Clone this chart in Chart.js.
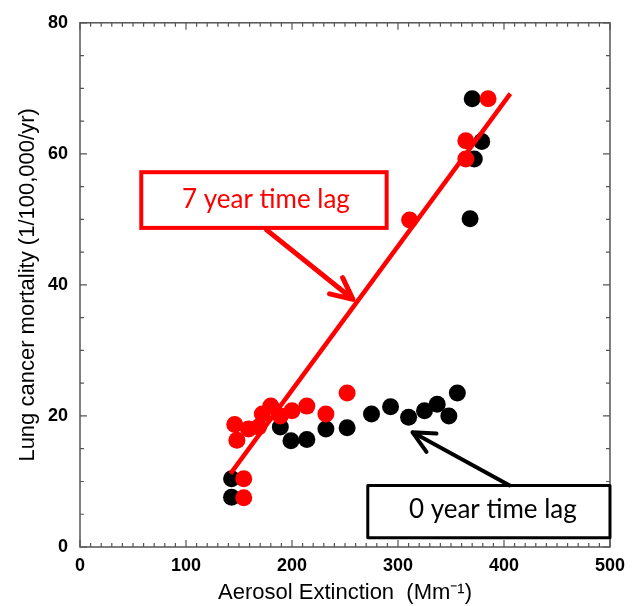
<!DOCTYPE html>
<html>
<head>
<meta charset="utf-8">
<script src="https://cdn.jsdelivr.net/npm/chart.js@4.4.0/dist/chart.umd.min.js"></script>
<style>
body { margin: 0; background: #fff; }
#wrap { width: 633px; height: 606px; position: relative; }
</style>
</head>
<body>
<div id="wrap"><canvas id="myChart"></canvas></div>
<script>
// 0 year time lag (black)
var lag0X = [143, 143, 189, 199, 214, 232, 252, 275, 293, 310, 325, 337, 348, 356, 368, 372, 379, 370];
var lag0Y = [7.6, 10.4, 18.3, 16.2, 16.4, 18.0, 18.2, 20.3, 21.4, 19.8, 20.8, 21.8, 20.0, 23.5, 50.1, 59.2, 61.9, 68.4];
// 7 year time lag (red)
var lag7X = [154.5, 154.5, 146, 148, 159, 168.5, 172, 180, 189, 200, 214, 232, 252, 311, 364, 364, 385];
var lag7Y = [7.5, 10.4, 18.7, 16.3, 18.0, 18.3, 20.3, 21.5, 20.0, 20.8, 21.5, 20.3, 23.5, 49.9, 59.2, 62.0, 68.4];
// fitted line for the 7 year lag
var fitX = [142, 406];
var fitY = [11.2, 69.2];

var xTicks = [0, 100, 200, 300, 400, 500];
var yTicks = [0, 20, 40, 60, 80];

function pts(xs, ys) {
	var out = [];
	for (var i = 0; i < xs.length; i++) out.push({ x: xs[i], y: ys[i] });
	return out;
}

// callouts, in data units
var notes = [
	{ text: "7 year time lag", color: "#ff0000", lw: 4, box: [57.8, 57.2, 289.3, 48.7], textAt: [175.4, 51.7], arrow: [176, 48.4, 257.5, 37.8] },
	{ text: "0 year time lag", color: "#000000", lw: 3, box: [271.5, 9.4, 500, 1.4], textAt: [389.5, 4.4], arrow: [405.4, 9.4, 313.7, 17.5] }
];

var framePlugin = {
	id: 'frame',
	beforeDatasetsDraw: function(chart) {
		var ctx = chart.ctx, a = chart.chartArea;
		var xs = chart.scales.x, ys = chart.scales.y;
		ctx.save();
		ctx.strokeStyle = "#555";
		ctx.lineWidth = 1.5;
		ctx.strokeRect(a.left, a.top, a.right - a.left, a.bottom - a.top);
		ctx.lineWidth = 1.2;
		ctx.beginPath();
		for (var v = 0; v <= 500; v += 10) {
			var px = xs.getPixelForValue(v);
			var len = (v % 100 === 0) ? 7 : 4;
			ctx.moveTo(px, a.bottom); ctx.lineTo(px, a.bottom - len);
			ctx.moveTo(px, a.top); ctx.lineTo(px, a.top + len);
		}
		for (var w = 0; w <= 80; w += 5) {
			var py = ys.getPixelForValue(w);
			var l2 = (w % 20 === 0) ? 7 : 4;
			ctx.moveTo(a.left, py); ctx.lineTo(a.left + l2, py);
			ctx.moveTo(a.right, py); ctx.lineTo(a.right - l2, py);
		}
		ctx.stroke();
		ctx.restore();
	},
	afterDraw: function(chart) {
		var ctx = chart.ctx;
		var xs = chart.scales.x, ys = chart.scales.y;
		ctx.save();
		notes.forEach(function(n) {
			var x1 = xs.getPixelForValue(n.box[0]), y1 = ys.getPixelForValue(n.box[1]);
			var x2 = xs.getPixelForValue(n.box[2]), y2 = ys.getPixelForValue(n.box[3]);
			ctx.fillStyle = "#fff";
			ctx.fillRect(x1, y1, x2 - x1, y2 - y1);
			ctx.strokeStyle = n.color;
			ctx.lineWidth = n.lw;
			ctx.strokeRect(x1, y1, x2 - x1, y2 - y1);
			ctx.fillStyle = n.color;
			ctx.font = "26px Lato";
			ctx.textAlign = "center";
			ctx.textBaseline = "alphabetic";
			ctx.fillText(n.text, xs.getPixelForValue(n.textAt[0]), ys.getPixelForValue(n.textAt[1]));
			// arrow
			var tx = xs.getPixelForValue(n.arrow[0]), ty = ys.getPixelForValue(n.arrow[1]);
			var hx = xs.getPixelForValue(n.arrow[2]), hy = ys.getPixelForValue(n.arrow[3]);
			var ang = Math.atan2(ty - hy, tx - hx);
			var hl = 24, spread = 0.45;
			ctx.lineWidth = n.lw + 1;
			ctx.lineCap = "round";
			ctx.lineJoin = "round";
			ctx.beginPath();
			ctx.moveTo(tx, ty); ctx.lineTo(hx, hy);
			ctx.moveTo(hx + hl * Math.cos(ang + spread), hy + hl * Math.sin(ang + spread));
			ctx.lineTo(hx, hy);
			ctx.lineTo(hx + hl * Math.cos(ang - spread), hy + hl * Math.sin(ang - spread));
			ctx.stroke();
		});
		ctx.restore();
	}
};

var ctx = document.getElementById("myChart").getContext("2d");
var myChart = new Chart(ctx, {
	type: 'scatter',
	data: {
		datasets: [{
			label: '0 year time lag',
			data: pts(lag0X, lag0Y),
			backgroundColor: '#000',
			borderWidth: 0,
			pointRadius: 8.5,
			order: 3
		}, {
			label: '7 year time lag',
			data: pts(lag7X, lag7Y),
			backgroundColor: '#ff0000',
			borderWidth: 0,
			pointRadius: 8.5,
			order: 2
		}, {
			type: 'line',
			label: 'fit',
			data: pts(fitX, fitY),
			borderColor: '#ff0000',
			borderWidth: 4.5,
			pointRadius: 0,
			fill: false,
			order: 1
		}]
	},
	options: {
		responsive: true,
		maintainAspectRatio: false,
		animation: false,
		layout: { padding: { top: 20, right: 19, left: 0, bottom: 0 } },
		plugins: { legend: { display: false }, tooltip: { enabled: false } },
		scales: {
			x: {
				type: 'linear',
				min: 0, max: 500,
				afterFit: function(s) { s.height = 59; },
				afterBuildTicks: function(s) { s.ticks = xTicks.map(function(v) { return { value: v }; }); },
				grid: { display: false, drawTicks: false },
				border: { display: false },
				ticks: { padding: 8, color: '#000', font: { family: 'Liberation Sans', size: 18, weight: 'bold' } },
				title: {
					display: true,
					text: 'Aerosol Extinction  (Mm\u207B\u00B9)',
					color: '#000',
					font: { family: 'Liberation Sans', size: 22 },
					padding: { top: 0, bottom: 0 }
				}
			},
			y: {
				type: 'linear',
				min: 0, max: 80,
				afterFit: function(s) { s.width = 80; },
				afterBuildTicks: function(s) { s.ticks = yTicks.map(function(v) { return { value: v }; }); },
				grid: { display: false, drawTicks: false },
				border: { display: false },
				ticks: { padding: 12, color: '#000', font: { family: 'Liberation Sans', size: 18, weight: 'bold' } },
				title: {
					display: true,
					text: 'Lung cancer mortality (1/100,000/yr)',
					color: '#000',
					font: { family: 'Liberation Sans', size: 22 },
					padding: { top: 15, bottom: 0 }
				}
			}
		}
	},
	plugins: [framePlugin]
});
</script>
</body>
</html>
